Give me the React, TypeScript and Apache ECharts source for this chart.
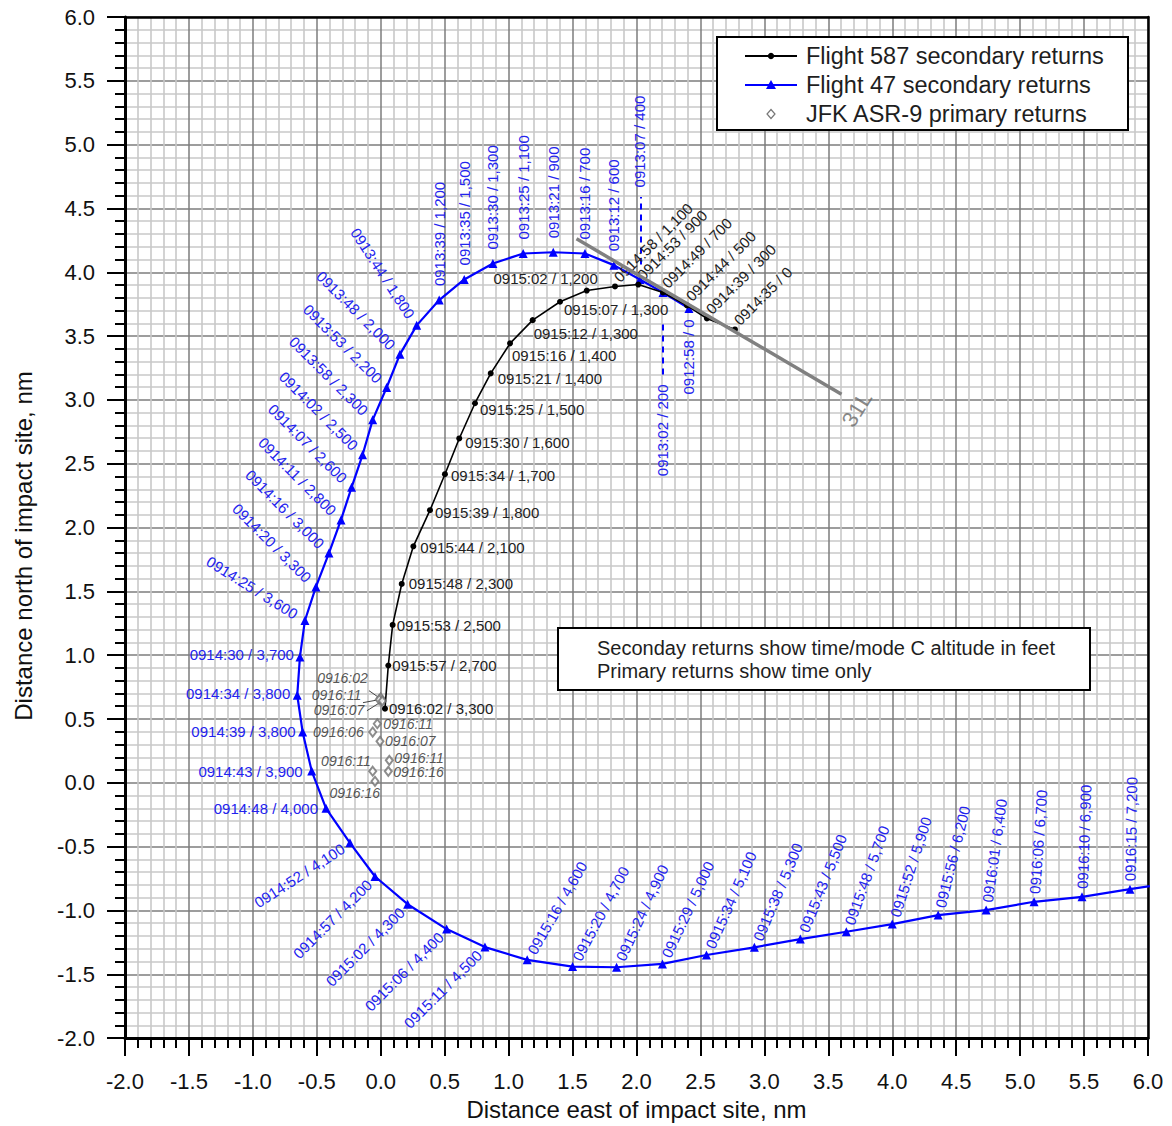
import React, { useEffect, useRef } from 'react';
import * as echarts from 'echarts';

const FONT = '"Liberation Sans", Arial, sans-serif';

// ---- Flight 587 secondary returns (time / mode C altitude) ----
const f587Labels = ['0914:35 / 0', '0914:39 / 300', '0914:44 / 500', '0914:49 / 700', '0914:53 / 900', '0914:58 / 1,100', '0915:02 / 1,200', '0915:07 / 1,300', '0915:12 / 1,300', '0915:16 / 1,400', '0915:21 / 1,400', '0915:25 / 1,500', '0915:30 / 1,600', '0915:34 / 1,700', '0915:39 / 1,800', '0915:44 / 2,100', '0915:48 / 2,300', '0915:53 / 2,500', '0915:57 / 2,700', '0916:02 / 3,300'];
const f587X = [2.770, 2.551, 2.395, 2.207, 2.014, 1.832, 1.611, 1.402, 1.188, 1.011, 0.860, 0.737, 0.614, 0.502, 0.385, 0.255, 0.164, 0.093, 0.059, 0.033];
const f587Y = [3.552, 3.638, 3.740, 3.842, 3.904, 3.889, 3.857, 3.769, 3.625, 3.443, 3.208, 2.974, 2.698, 2.418, 2.136, 1.853, 1.558, 1.237, 0.919, 0.581];
// label placement: [rotate, align, dx, dy]
const f587Place: [number, string, number, number][] = [
  [45, 'left', 6, -4], [45, 'left', 6, -4], [45, 'left', 6, -4], [45, 'left', 6, -4], [45, 'left', 6, -4], [45, 'left', 6, -4],
  [0, 'right', 11, -12], [0, 'left', 4, 8], [0, 'left', 1, 13], [0, 'left', 2, 12], [0, 'left', 7, 5], [0, 'left', 5, 6],
  [0, 'left', 6, 4], [0, 'left', 6, 1], [0, 'left', 5, 2], [0, 'left', 7, 1], [0, 'left', 7, 0], [0, 'left', 4, 1],
  [0, 'left', 4, 0], [0, 'left', 4, 0],
];

// ---- Flight 47 secondary returns ----
const f47Labels = ['0912:58 / 0', '0913:02 / 200', '0913:07 / 400', '0913:12 / 600', '0913:16 / 700', '0913:21 / 900', '0913:25 / 1,100', '0913:30 / 1,300', '0913:35 / 1,500', '0913:39 / 1,200', '0913:44 / 1,800', '0913:48 / 2,000', '0913:53 / 2,200', '0913:58 / 2,300', '0914:02 / 2,500', '0914:07 / 2,600', '0914:11 / 2,800', '0914:16 / 3,000', '0914:20 / 3,300', '0914:25 / 3,600', '0914:30 / 3,700', '0914:34 / 3,800', '0914:39 / 3,800', '0914:43 / 3,900', '0914:48 / 4,000', '0914:52 / 4,100', '0914:57 / 4,200', '0915:02 / 4,300', '0915:06 / 4,400', '0915:11 / 4,500', '0915:16 / 4,600', '0915:20 / 4,700', '0915:24 / 4,900', '0915:29 / 5,000', '0915:34 / 5,100', '0915:38 / 5,300', '0915:43 / 5,500', '0915:48 / 5,700', '0915:52 / 5,900', '0915:56 / 6,200', '0916:01 / 6,400', '0916:06 / 6,700', '0916:10 / 6,900', '0916:15 / 7,200', ''];
const f47X = [2.410, 2.207, 2.027, 1.823, 1.597, 1.349, 1.114, 0.877, 0.653, 0.457, 0.281, 0.150, 0.046, -0.063, -0.142, -0.228, -0.311, -0.405, -0.507, -0.593, -0.632, -0.653, -0.611, -0.540, -0.428, -0.241, -0.045, 0.210, 0.515, 0.815, 1.145, 1.500, 1.844, 2.203, 2.547, 2.922, 3.281, 3.641, 4.000, 4.359, 4.734, 5.109, 5.484, 5.859, 6.230];
const f47Y = [3.717, 3.842, 3.944, 4.056, 4.147, 4.157, 4.147, 4.069, 3.944, 3.782, 3.584, 3.357, 3.097, 2.844, 2.570, 2.315, 2.060, 1.800, 1.535, 1.272, 0.986, 0.686, 0.399, 0.092, -0.200, -0.470, -0.734, -0.951, -1.146, -1.287, -1.387, -1.440, -1.445, -1.419, -1.349, -1.289, -1.224, -1.167, -1.107, -1.036, -0.997, -0.932, -0.893, -0.833, -0.775];
const f47Place: [number, string, number, number][] = [
  [90, 'right', -11, 0], [90, 'right', -92, 0], [90, 'left', 92, 0],
  [90, 'left', 14, 0], [90, 'left', 14, 0], [90, 'left', 14, 0], [90, 'left', 14, 0], [90, 'left', 14, 0], [90, 'left', 14, 0], [90, 'left', 14, 0],
  [-57, 'right', -10, 0],
  [-45, 'right', -10, 0], [-45, 'right', -10, 0], [-45, 'right', -10, 0], [-45, 'right', -10, 0], [-45, 'right', -10, 0], [-45, 'right', -10, 0], [-45, 'right', -10, 0], [-45, 'right', -10, 0],
  [-32, 'right', -10, 0],
  [0, 'right', -6, -2], [0, 'right', -7, -2], [0, 'right', -7, 0], [0, 'right', -9, 0], [0, 'right', -8, 0],
  [33, 'right', -8, 0], [45, 'right', -8, 0], [45, 'right', -8, 0], [45, 'right', -8, 0], [45, 'right', -8, 0],
  [60, 'left', 8, 0], [62, 'left', 8, 0], [65, 'left', 8, 0], [65, 'left', 8, 0], [66, 'left', 8, 0], [67, 'left', 8, 0],
  [68, 'left', 8, 0], [70, 'left', 8, 0], [72, 'left', 8, 0], [76, 'left', 8, 0], [82, 'left', 8, 0], [86, 'left', 8, 0],
  [88, 'left', 8, 0], [89, 'left', 8, 0], [0, 'left', 0, 0],
];

// ---- JFK ASR-9 primary returns (time only) ----
const primLabels = ['0916:02', '0916:11', '0916:07', '0916:11', '0916:06', '0916:07', '0916:11', '0916:16', '0916:11', '0916:16'];
const primX = [0.000, -0.012, 0.012, -0.027, -0.063, -0.006, 0.067, 0.059, -0.063, -0.045];
const primY = [0.665, 0.652, 0.642, 0.463, 0.398, 0.325, 0.176, 0.090, 0.091, 0.012];
const primPlace: [string, number, number][] = [
  ['right', -13, -20], ['right', -18, -5], ['right', -18, 9], ['left', 6, 0], ['right', -9, 0],
  ['left', 5, 0], ['left', 5, -2], ['left', 5, 1], ['right', -2, -10], ['right', 5, 12],
];
const primLeaders = [
  [[-0.092, 0.722], [-0.006, 0.662]],
  [[-0.139, 0.628], [-0.016, 0.651]],
  [[-0.108, 0.565], [0.008, 0.638]],
];

// ---- dashed leaders for Flight 47 labels ----
const f47Leaders = [
  [[2.035, 4.060], [2.035, 4.590]],
  [[2.207, 3.591], [2.207, 3.185]],
];

// ---- runway 31L extended centreline ----
const runwayX = [1.531, 3.603];
const runwayY = [4.262, 3.045];
const runwayLabel = { text: '31L', x: 3.724, y: 2.927 };

const xTicks = { min: -2, max: 6, step: 0.5 };
const yTicks = { min: -2, max: 6, step: 0.5 };

const xTitle = 'Distance east of impact site, nm';
const yTitle = 'Distance north of impact site, nm';
const legendItems = ['Flight 587 secondary returns', 'Flight 47 secondary returns', 'JFK ASR-9 primary returns'];
const noteLines = ['Seconday returns show time/mode C altitude in feet', 'Primary returns show time only'];

const BLUE = '#0000ff';
const BLUE_TXT = '#2323ee';
const TXT = '#1e1e1e';

function axisCommon(t: { min: number; max: number; step: number }) {
  return {
    type: 'value',
    min: t.min,
    max: t.max,
    interval: t.step,
    axisLine: { show: true, onZero: false, lineStyle: { color: '#000', width: 3 } },
    axisTick: { show: true, length: 18, lineStyle: { color: '#000', width: 2 } },
    minorTick: { show: true, splitNumber: 5, length: 10, lineStyle: { color: '#000', width: 2 } },
    splitLine: { show: true, lineStyle: { color: '#7c7c7c', width: 1.5 } },
    minorSplitLine: { show: true, lineStyle: { color: '#c8c8c8', width: 1.6 } },
    axisLabel: { fontSize: 22, color: '#111', fontFamily: FONT, formatter: (v: number) => v.toFixed(1) },
  };
}

function frameAxis(t: { min: number; max: number; step: number }, position: string) {
  return {
    type: 'value', min: t.min, max: t.max, interval: t.step, position,
    axisLine: { show: true, onZero: false, lineStyle: { color: '#000', width: 2.5 } },
    axisTick: { show: false }, axisLabel: { show: false }, splitLine: { show: false },
  };
}

function buildOption() {
  const blueData = f47X.map((x, i) => {
    const p = f47Place[i];
    return {
      value: [x, f47Y[i]],
      label: {
        show: f47Labels[i] !== '', formatter: f47Labels[i], position: 'inside', rotate: p[0], align: p[1],
        verticalAlign: 'middle', offset: [p[2], p[3]], fontSize: 15, color: BLUE_TXT, fontFamily: FONT,
      },
    };
  });
  const blackData = f587X.map((x, i) => {
    const p = f587Place[i];
    return {
      value: [x, f587Y[i]],
      label: {
        show: true, formatter: f587Labels[i], position: 'inside', rotate: p[0], align: p[1],
        verticalAlign: 'middle', offset: [p[2], p[3]], fontSize: 15, color: '#222', fontFamily: FONT,
      },
    };
  });
  const primData = primX.map((x, i) => {
    const p = primPlace[i];
    return {
      value: [x, primY[i]],
      label: {
        show: true, formatter: primLabels[i], position: 'inside', align: p[0], verticalAlign: 'middle',
        offset: [p[1], p[2]], fontSize: 14, fontStyle: 'italic', color: '#2a2a2a', fontFamily: FONT,
      },
    };
  });

  const lx = 717, ly = 37;
  const rowY = [56, 85, 114];
  const graphic: any[] = [
    { type: 'rect', z: 100, shape: { x: lx, y: ly, width: 411, height: 93 }, style: { fill: '#fff', stroke: '#000', lineWidth: 2 } },
    { type: 'line', z: 101, shape: { x1: 745, y1: rowY[0], x2: 797, y2: rowY[0] }, style: { stroke: '#000', lineWidth: 2 } },
    { type: 'circle', z: 102, shape: { cx: 771, cy: rowY[0], r: 3.2 }, style: { fill: '#000' } },
    { type: 'line', z: 101, shape: { x1: 745, y1: rowY[1], x2: 797, y2: rowY[1] }, style: { stroke: BLUE, lineWidth: 2 } },
    { type: 'polygon', z: 102, shape: { points: [[771, rowY[1] - 5], [776, rowY[1] + 4], [766, rowY[1] + 4]] }, style: { fill: BLUE } },
    { type: 'polygon', z: 102, shape: { points: [[771, rowY[2] - 4.5], [775, rowY[2]], [771, rowY[2] + 4.5], [767, rowY[2]]] }, style: { fill: '#fff', stroke: '#777', lineWidth: 1.2 } },
    ...legendItems.map((t, i) => ({
      type: 'text', z: 103, x: 806, y: rowY[i],
      style: { text: t, fontSize: 23.5, fontFamily: FONT, fill: TXT, textVerticalAlign: 'middle', verticalAlign: 'middle' },
    })),
    { type: 'rect', z: 100, shape: { x: 558, y: 628, width: 532, height: 62 }, style: { fill: '#fff', stroke: '#000', lineWidth: 2 } },
    ...noteLines.map((t, i) => ({
      type: 'text', z: 103, x: 597, y: 648 + i * 23,
      style: { text: t, fontSize: 20, fontFamily: FONT, fill: TXT, verticalAlign: 'middle', textVerticalAlign: 'middle' },
    })),
    {
      type: 'text', z: 103, x: 23, y: 546, rotation: Math.PI / 2,
      style: { text: yTitle, fontSize: 24, fontFamily: FONT, fill: '#111', align: 'center', verticalAlign: 'middle', textAlign: 'center', textVerticalAlign: 'middle' },
    },
  ];

  return {
    animation: false,
    backgroundColor: '#fff',
    grid: { left: 125, top: 17, right: 24, bottom: 86, containLabel: false },
    xAxis: [
      {
        ...axisCommon(xTicks), position: 'bottom',
        name: xTitle, nameLocation: 'middle', nameGap: 57,
        nameTextStyle: { fontSize: 24, color: '#111', fontFamily: FONT },
        axisLabel: { ...axisCommon(xTicks).axisLabel, margin: 32 },
      },
      frameAxis(xTicks, 'top'),
    ],
    yAxis: [
      {
        ...axisCommon(yTicks), position: 'left',
        axisLabel: { ...axisCommon(yTicks).axisLabel, margin: 30 },
      },
      frameAxis(yTicks, 'right'),
    ],
    graphic,
    series: [
      {
        name: legendItems[1], type: 'line', data: blueData, symbol: 'triangle', symbolSize: 9,
        lineStyle: { color: BLUE, width: 2.2 }, itemStyle: { color: BLUE }, z: 3, clip: true,
      },
      {
        name: legendItems[0], type: 'line', data: blackData, symbol: 'circle', symbolSize: 6,
        lineStyle: { color: '#000', width: 1.6 }, itemStyle: { color: '#000' }, z: 4, clip: true,
      },
      {
        name: 'runway', type: 'line', data: runwayX.map((x, i) => [x, runwayY[i]]), symbol: 'none',
        lineStyle: { color: '#808080', width: 3.5 }, z: 5,
      },
      {
        name: 'runwayLabel', type: 'scatter', data: [[runwayLabel.x, runwayLabel.y]], symbolSize: 1,
        itemStyle: { color: 'rgba(0,0,0,0)' }, z: 5,
        label: { show: true, formatter: runwayLabel.text, position: 'inside', rotate: 58, align: 'center', verticalAlign: 'middle', fontSize: 22, color: '#6a6a6a', fontFamily: FONT },
      },
      {
        name: 'f47leaders', type: 'lines', coordinateSystem: 'cartesian2d', z: 3,
        data: f47Leaders.map((c) => ({ coords: c })),
        lineStyle: { color: BLUE, width: 2, type: [6, 5], opacity: 1 },
      },
      {
        name: legendItems[2], type: 'scatter', data: primData, symbol: 'emptyDiamond', symbolSize: [7, 9],
        itemStyle: { color: '#707070', borderWidth: 1 }, z: 6,
      },
      {
        name: 'primLeaders', type: 'lines', coordinateSystem: 'cartesian2d', z: 6,
        data: primLeaders.map((c) => ({ coords: c })),
        lineStyle: { color: '#444', width: 1, opacity: 1 },
      },
    ],
  };
}

export default function App() {
  const ref = useRef<HTMLDivElement>(null);
  useEffect(() => {
    const chart = echarts.init(ref.current as HTMLDivElement, null, { renderer: 'svg' });
    chart.setOption(buildOption() as any);
    return () => chart.dispose();
  }, []);
  return (
    <div
      ref={ref}
      style={{ position: 'fixed', left: 0, top: 0, width: 1172, height: 1126, background: '#fff' }}
    />
  );
}
